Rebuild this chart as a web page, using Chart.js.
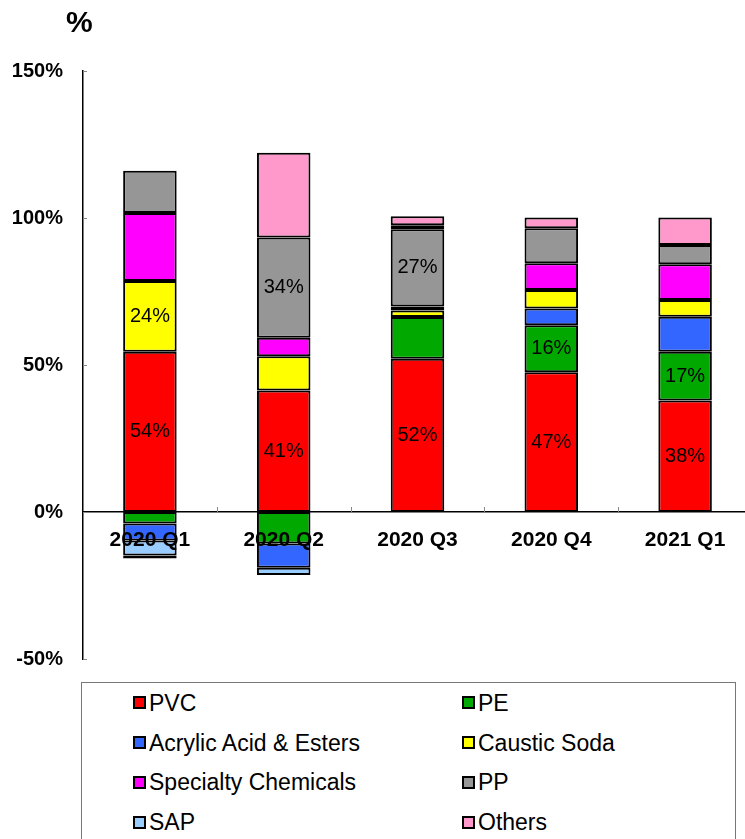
<!DOCTYPE html>
<html>
<head>
<meta charset="utf-8">
<script src="https://cdn.jsdelivr.net/npm/chart.js@4/dist/chart.umd.min.js"></script>
<style>
  html, body { margin: 0; padding: 0; background: #fff; overflow: hidden; width: 745px; height: 839px; }
  #wrap { position: relative; width: 745px; height: 839px; overflow: hidden; }
  #cv { position: absolute; left: 0; top: 0; }
  #unit { position: absolute; left: 66px; top: 5px; font: bold 30px "Liberation Sans", Arial, sans-serif; color: #000; }
  #legend { position: absolute; left: 81px; top: 682px; width: 655px; height: 200px; border: 1px solid #777; box-sizing: border-box; background: #fff; }
  .li { position: absolute; font: 23px "Liberation Sans", Arial, sans-serif; color: #000; white-space: nowrap; line-height: 26px; }
  .sw { display: inline-block; width: 9px; height: 9px; border: 2px solid #000; vertical-align: middle; margin-right: 3px; position: relative; top: -2px; }
</style>
</head>
<body>
<div id="wrap">
  <canvas id="cv" width="760" height="691"></canvas>
  <div id="unit">%</div>
  <div id="legend"></div>
</div>
<script>
// ---- data ----
const categories = ['2020 Q1', '2020 Q2', '2020 Q3', '2020 Q4', '2021 Q1'];
const seriesNames = ['PVC', 'PE', 'Acrylic Acid & Esters', 'Caustic Soda', 'Specialty Chemicals', 'PP', 'SAP', 'Others'];
const seriesColors = ['#FF0000', '#00A800', '#3366FF', '#FFFF00', '#FF00FF', '#969696', '#99CCFF', '#FF99CC'];

const pvc       = [54.5, 41.3, 52.1, 47.5, 37.9];
const pe        = [-3.9, -10.7, 14.2, 16.0, 16.6];
const acrylic   = [-5.8, -8.3, null, 5.7, 11.9];
const caustic   = [24.1, 11.7, 2.2, 6.3, 5.7];
const specialty = [23.1, 6.3, 1.4, 9.1, 12.2];
const pp        = [14.4, 34.1, 26.3, 11.9, 6.5];
const sap       = [-5.1, -2.4, 1.3, null, null];
const others    = [-1.0, 28.8, 3.1, 3.7, 9.4];

// value labels shown inside segments ('' = none)
const pvcLabels       = ['54%', '41%', '52%', '47%', '38%'];
const peLabels        = ['', '', '', '16%', '17%'];
const causticLabels   = ['24%', '', '', '', ''];
const ppLabels        = ['', '34%', '27%', '', ''];
const emptyLabels     = ['', '', '', '', ''];

const yTicks = [-50, 0, 50, 100, 150];

const seriesValues = [pvc, pe, acrylic, caustic, specialty, pp, sap, others];
const seriesLabels = [pvcLabels, peLabels, emptyLabels, causticLabels, emptyLabels, ppLabels, emptyLabels, emptyLabels];

const FONT = '"Liberation Sans", Arial, sans-serif';

const datasets = seriesNames.map((name, i) => ({
  label: name,
  data: seriesValues[i],
  backgroundColor: seriesColors[i],
  borderColor: '#000',
  borderWidth: 2,
  borderSkipped: false,
  stack: 's',
  barPercentage: 0.4,
  categoryPercentage: 1.0,
  valueLabels: seriesLabels[i]
}));

const segLabelPlugin = {
  id: 'segLabels',
  afterDatasetsDraw(chart) {
    const ctx = chart.ctx;
    ctx.save();
    ctx.font = '20px ' + FONT;
    ctx.fillStyle = '#000';
    ctx.textAlign = 'center';
    ctx.textBaseline = 'middle';
    chart.data.datasets.forEach((ds, di) => {
      const meta = chart.getDatasetMeta(di);
      meta.data.forEach((el, i) => {
        const t = ds.valueLabels[i];
        if (!t) return;
        ctx.fillText(t, el.x, (el.y + el.base) / 2);
      });
    });
    ctx.restore();
  }
};

const tickMarkPlugin = {
  id: 'tickMarks',
  afterDraw(chart) {
    const ctx = chart.ctx;
    const y = chart.scales.y, x = chart.scales.x;
    ctx.save();
    ctx.strokeStyle = '#888';
    ctx.lineWidth = 1;
    yTicks.forEach(v => {
      const py = Math.round(y.getPixelForValue(v)) + 0.5;
      ctx.beginPath(); ctx.moveTo(y.right, py); ctx.lineTo(y.right + 4, py); ctx.stroke();
    });
    const zero = y.getPixelForValue(0);
    const step = x.getPixelForValue(1) - x.getPixelForValue(0);
    for (let i = 0; i < categories.length - 1; i++) {
      const px = Math.round(x.getPixelForValue(i) + step / 2) + 0.5;
      ctx.beginPath(); ctx.moveTo(px, zero); ctx.lineTo(px, zero - 5); ctx.stroke();
    }
    ctx.restore();
  }
};

new Chart(document.getElementById('cv'), {
  type: 'bar',
  data: { labels: categories, datasets },
  options: {
    responsive: false,
    animation: false,
    layout: { padding: { top: 71, bottom: 11, left: 0, right: 8 } },
    plugins: { legend: { display: false }, tooltip: { enabled: false }, title: { display: false } },
    scales: {
      x: {
        type: 'category',
        position: { y: 0 },
        stacked: true,
        grid: { display: false, drawTicks: false },
        border: { display: true, color: '#000', width: 1.5 },
        ticks: { z: 1, color: '#000', font: { family: FONT, size: 21, weight: 'bold' }, padding: 16, maxRotation: 0 }
      },
      y: {
        stacked: true,
        min: -50,
        max: 150,
        afterFit(scale) { scale.width = 83; },
        afterBuildTicks(scale) { scale.ticks = yTicks.map(v => ({ value: v })); },
        grid: { display: false, drawTicks: false },
        border: { display: true, color: '#000', width: 1.5 },
        ticks: {
          color: '#000',
          font: { family: FONT, size: 20, weight: 'bold' },
          padding: 20,
          callback: v => v + '%'
        }
      }
    }
  },
  plugins: [segLabelPlugin, tickMarkPlugin]
});

// HTML legend built from the series arrays
const legend = document.getElementById('legend');
seriesNames.forEach((name, i) => {
  const col = i % 2, row = Math.floor(i / 2);
  const item = document.createElement('div');
  item.className = 'li';
  item.style.left = (col === 0 ? 51 : 380) + 'px';
  item.style.top = (7 + row * 39.7) + 'px';
  const sw = document.createElement('span');
  sw.className = 'sw';
  sw.style.background = seriesColors[i];
  item.appendChild(sw);
  item.appendChild(document.createTextNode(name));
  legend.appendChild(item);
});
</script>
</body>
</html>
